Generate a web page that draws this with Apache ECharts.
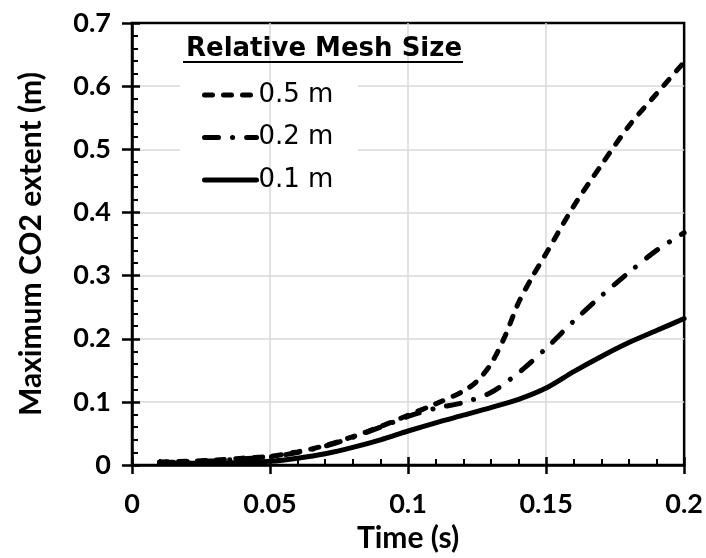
<!DOCTYPE html>
<html><head><meta charset="utf-8">
<script src="https://cdn.jsdelivr.net/npm/echarts@6/dist/echarts.min.js"></script>
<style>html,body{margin:0;padding:0;background:#fff}#c{width:706px;height:558px}</style>
</head><body><div id="c"></div>
<script>
var xTicks = [0, 0.05, 0.1, 0.15, 0.2];
var yTicks = [0, 0.1, 0.2, 0.3, 0.4, 0.5, 0.6, 0.7];
var legendTitle = 'Relative Mesh Size';
var seriesNames = ['0.5 m', '0.2 m', '0.1 m'];
var xLabel = 'Time (s)';
var yLabel = 'Maximum CO2 extent (m)';

var time05 = [0.01,0.02,0.03,0.04,0.05,0.06,0.07,0.08,0.09,0.1,0.11,0.12,0.125,0.13,0.135,0.14,0.145,0.15,0.16,0.17,0.18,0.19,0.2];
var mesh05 = [0.005,0.006,0.008,0.011,0.014,0.021,0.031,0.045,0.061,0.079,0.097,0.117,0.133,0.16,0.203,0.257,0.298,0.335,0.41,0.475,0.537,0.588,0.638];
var time02 = [0.01,0.02,0.03,0.04,0.05,0.06,0.07,0.08,0.09,0.1,0.11,0.12,0.13,0.14,0.15,0.16,0.17,0.18,0.19,0.2];
var mesh02 = [0.004,0.005,0.007,0.01,0.013,0.02,0.03,0.044,0.06,0.077,0.09,0.099,0.115,0.146,0.185,0.228,0.268,0.305,0.34,0.368];
var time01 = [0.01,0.02,0.03,0.04,0.05,0.06,0.07,0.08,0.09,0.1,0.11,0.12,0.13,0.14,0.15,0.16,0.17,0.18,0.19,0.2];
var mesh01 = [0.003,0.003,0.003,0.004,0.006,0.011,0.018,0.028,0.04,0.054,0.067,0.079,0.091,0.104,0.122,0.148,0.172,0.194,0.213,0.232];

function pairs(xs, ys){ return xs.map(function(x,i){ return [x, ys[i]]; }); }

var FONT = 'Lato';
var LFONT = 'DejaVu Sans';
var chart = echarts.init(document.getElementById('c'), null, {renderer:'canvas'});
var lineStyleBase = {color:'#000', width:5, cap:'round'};
var dashed = [8,11], dashDot = [14,14,0.1,14];
chart.setOption({
  animation:false,
  backgroundColor:'#fff',
  grid: {left:132, right:18, top:23, bottom:84, show:true, borderColor:'#000', borderWidth:2.5, backgroundColor:'transparent'},
  title: {text: legendTitle, left:181, top:31, textStyle:{fontFamily:LFONT, fontWeight:'bold', fontSize:26, color:'#000'}},
  legend: {
    orient:'vertical', left:197, top:77, itemWidth:52, itemHeight:14, itemGap:16.5, z:5,
    itemStyle:{opacity:0},
    lineStyle:{width:5, cap:'round'},
    data: seriesNames,
    textStyle:{fontFamily:LFONT, fontSize:26, color:'#000', padding:[0,0,0,-3]}
  },
  graphic: [
    {type:'rect', z:1, shape:{x:180, y:70, width:178, height:125}, style:{fill:'#fff'}},
    {type:'line', z:6, shape:{x1:183, y1:62, x2:463, y2:62}, style:{stroke:'#000', lineWidth:2}}
  ],
  xAxis: [{
    type:'value', min:xTicks[0], max:xTicks[xTicks.length-1], interval:0.05, z:2,
    name:xLabel, nameLocation:'middle', nameGap:51,
    nameTextStyle:{fontFamily:FONT, fontWeight:'bold', fontSize:30, color:'#000'},
    axisLine:{onZero:false, lineStyle:{color:'#000', width:2.5}},
    axisTick:{inside:true, length:8, lineStyle:{color:'#000', width:2.5}},
    minorTick:{show:true, splitNumber:5, length:6, lineStyle:{color:'#000', width:2}},
    axisLabel:{margin:26, fontFamily:FONT, fontWeight:'bold', fontSize:27, color:'#000',
      formatter:function(v){ return String(+v.toFixed(2)); }},
    splitLine:{show:true, showMinLine:false, showMaxLine:false, lineStyle:{color:'#d9d9d9', width:1.5}}
  },{
    type:'value', min:xTicks[0], max:xTicks[xTicks.length-1], interval:0.05, z:2,
    axisLine:{show:false}, axisTick:{show:true, inside:false, length:9, lineStyle:{color:'#000', width:2.5}},
    axisLabel:{show:false}, splitLine:{show:false}, position:'bottom'
  }],
  yAxis: [{
    type:'value', min:yTicks[0], max:yTicks[yTicks.length-1], interval:0.1, z:0,
    name:yLabel, nameLocation:'middle', nameGap:86,
    nameTextStyle:{fontFamily:FONT, fontWeight:'bold', fontSize:30, color:'#000'},
    axisLine:{onZero:false, lineStyle:{color:'#000', width:2.5}},
    axisTick:{inside:true, length:8, lineStyle:{color:'#000', width:2.5}},
    minorTick:{show:true, splitNumber:5, length:6, lineStyle:{color:'#000', width:2}},
    axisLabel:{margin:21, fontFamily:FONT, fontWeight:'bold', fontSize:27, color:'#000',
      formatter:function(v){ return String(+v.toFixed(1)); }},
    splitLine:{show:true, showMinLine:false, showMaxLine:false, lineStyle:{color:'#d9d9d9', width:1.5}}
  },{
    type:'value', min:yTicks[0], max:yTicks[yTicks.length-1], interval:0.1, z:2,
    axisLine:{show:false}, axisTick:{show:true, inside:false, length:10, lineStyle:{color:'#000', width:2.5}},
    axisLabel:{show:false}, splitLine:{show:false}, position:'left'
  }],
  series: [
    {name:seriesNames[0], type:'line', z:3, data:pairs(time05, mesh05), showSymbol:false, symbol:'none', smooth:0.3,
     itemStyle:{color:'#000'}, lineStyle:Object.assign({}, lineStyleBase, {type:dashed})},
    {name:seriesNames[1], type:'line', z:3, data:pairs(time02, mesh02), showSymbol:false, symbol:'none', smooth:0.3,
     itemStyle:{color:'#000'}, lineStyle:Object.assign({}, lineStyleBase, {type:dashDot})},
    {name:seriesNames[2], type:'line', z:3, data:pairs(time01, mesh01), showSymbol:false, symbol:'none', smooth:0.3,
     itemStyle:{color:'#000'}, lineStyle:Object.assign({}, lineStyleBase, {type:'solid'})}
  ]
});
</script></body></html>
